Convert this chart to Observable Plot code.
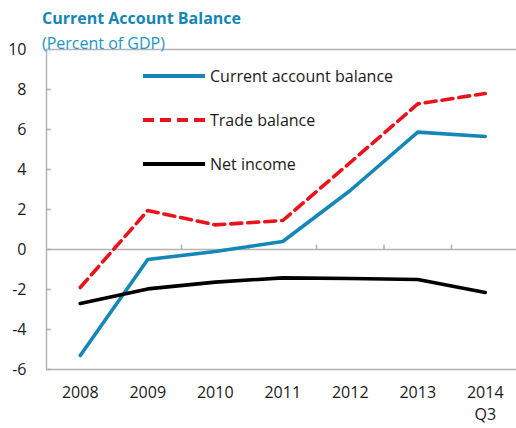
<!DOCTYPE html>
<html>
<head>
<meta charset="utf-8">
<script src="https://cdn.jsdelivr.net/npm/d3@7"></script>
<script src="https://cdn.jsdelivr.net/npm/@observablehq/plot@0.6"></script>
<style>
  body { margin: 0; background: #fff; font-family: "Open Sans", sans-serif; }
  #wrap { position: relative; width: 516px; height: 428px; overflow: hidden; background: #fff; }
  #wrap > svg { position: absolute; left: 0; top: 0; }
  .title { position: absolute; left: 42px; top: 7px; font-size: 16px; font-weight: 700; color: #1486b6; white-space: nowrap; }
  .subtitle { position: absolute; left: 42px; top: 32px; font-size: 16px; color: #2196c9; white-space: nowrap; }
  .leg { position: absolute; left: 143px; height: 22px; display: flex; align-items: center; white-space: nowrap; font-size: 16px; color: #1a1a1a; }
  .leg svg { display: block; margin-right: 5px; }
</style>
</head>
<body>
<div id="wrap"></div>
<script>
const titleText = "Current Account Balance";
const subtitleText = "(Percent of GDP)";
const years = [2008, 2009, 2010, 2011, 2012, 2013, 2014];
const yearLabels = ["2008", "2009", "2010", "2011", "2012", "2013", "2014\nQ3"];
const currentAccount = [-5.3, -0.5, -0.1, 0.4, 2.95, 5.87, 5.65];
const tradeBalance = [-1.9, 1.95, 1.23, 1.45, 4.35, 7.28, 7.8];
const netIncome = [-2.7, -1.97, -1.63, -1.42, -1.45, -1.5, -2.15];
const yTicks = [-6, -4, -2, 0, 2, 4, 6, 8, 10];
const seriesNames = ["Current account balance", "Trade balance", "Net income"];
const seriesColors = ["#1487b7", "#e8141c", "#000000"];
const seriesDash = [null, "11,6", null];

const seriesValues = [currentAccount, tradeBalance, netIncome];
const rows = [];
seriesNames.forEach((name, s) => {
  years.forEach((yr, i) => rows.push({ series: name, year: yr, value: seriesValues[s][i] }));
});
const boundaries = years.slice(0, -1).map(y => y + 0.5);
const xMin = years[0] - 0.5, xMax = years[years.length - 1] + 0.5;
const yMin = yTicks[0], yMax = yTicks[yTicks.length - 1];
const grey = "#b3b3b3";

const chart = Plot.plot({
  width: 516,
  height: 428,
  marginTop: 49,
  marginBottom: 59,
  marginLeft: 46,
  marginRight: 0,
  x: { type: "linear", domain: [xMin, xMax], range: [46, 518.5], axis: null, label: null },
  y: { domain: [yMin, yMax], range: [369, 49], axis: null, label: null },
  style: { fontFamily: "Open Sans, sans-serif", fontSize: "16px", color: "#1a1a1a", background: "transparent" },
  marks: [
    Plot.ruleY([yMax, yMin], { stroke: grey, strokeWidth: 1.5 }),
    Plot.ruleX([xMin], { y1: yMin, y2: yMax, stroke: grey, strokeWidth: 1.5 }),
    Plot.ruleY([0], { stroke: grey, strokeWidth: 1.5 }),
    Plot.ruleX(boundaries, { y1: 0, y2: 0.22, stroke: grey, strokeWidth: 1.5 }),
    Plot.ruleY(yTicks, { x1: xMin, x2: xMin + 0.075, stroke: grey, strokeWidth: 1.5 }),
    Plot.axisY({ ticks: yTicks, tickFormat: d => String(d), tickSize: 0, tickPadding: 20, fontSize: 16, fill: "#1a1a1a", label: null }),
    Plot.axisX({ ticks: years, tickFormat: d => yearLabels[years.indexOf(d)], tickSize: 0, tickPadding: 13, fontSize: 16, lineHeight: 1.38, fill: "#1a1a1a", label: null }),
    ...seriesNames.map((name, s) =>
      Plot.line(rows.filter(r => r.series === name), {
        x: "year", y: "value",
        stroke: seriesColors[s], strokeWidth: 3.6,
        strokeDasharray: seriesDash[s] || undefined,
        strokeLinejoin: "round"
      })
    )
  ]
});

const wrap = document.getElementById("wrap");
wrap.appendChild(chart);

const t = document.createElement("div");
t.className = "title"; t.textContent = titleText; wrap.appendChild(t);
const st = document.createElement("div");
st.className = "subtitle"; st.textContent = subtitleText; wrap.appendChild(st);

const legendY = [76, 119.5, 163.5];
seriesNames.forEach((name, s) => {
  const row = document.createElement("div");
  row.className = "leg";
  row.style.top = (legendY[s] - 11) + "px";
  const dash = seriesDash[s] ? ` stroke-dasharray="${seriesDash[s]}"` : "";
  row.innerHTML = `<svg width="62" height="8"><line x1="0" y1="4" x2="62" y2="4" stroke="${seriesColors[s]}" stroke-width="4"${dash}/></svg><span>${name}</span>`;
  wrap.appendChild(row);
});
</script>
</body>
</html>
